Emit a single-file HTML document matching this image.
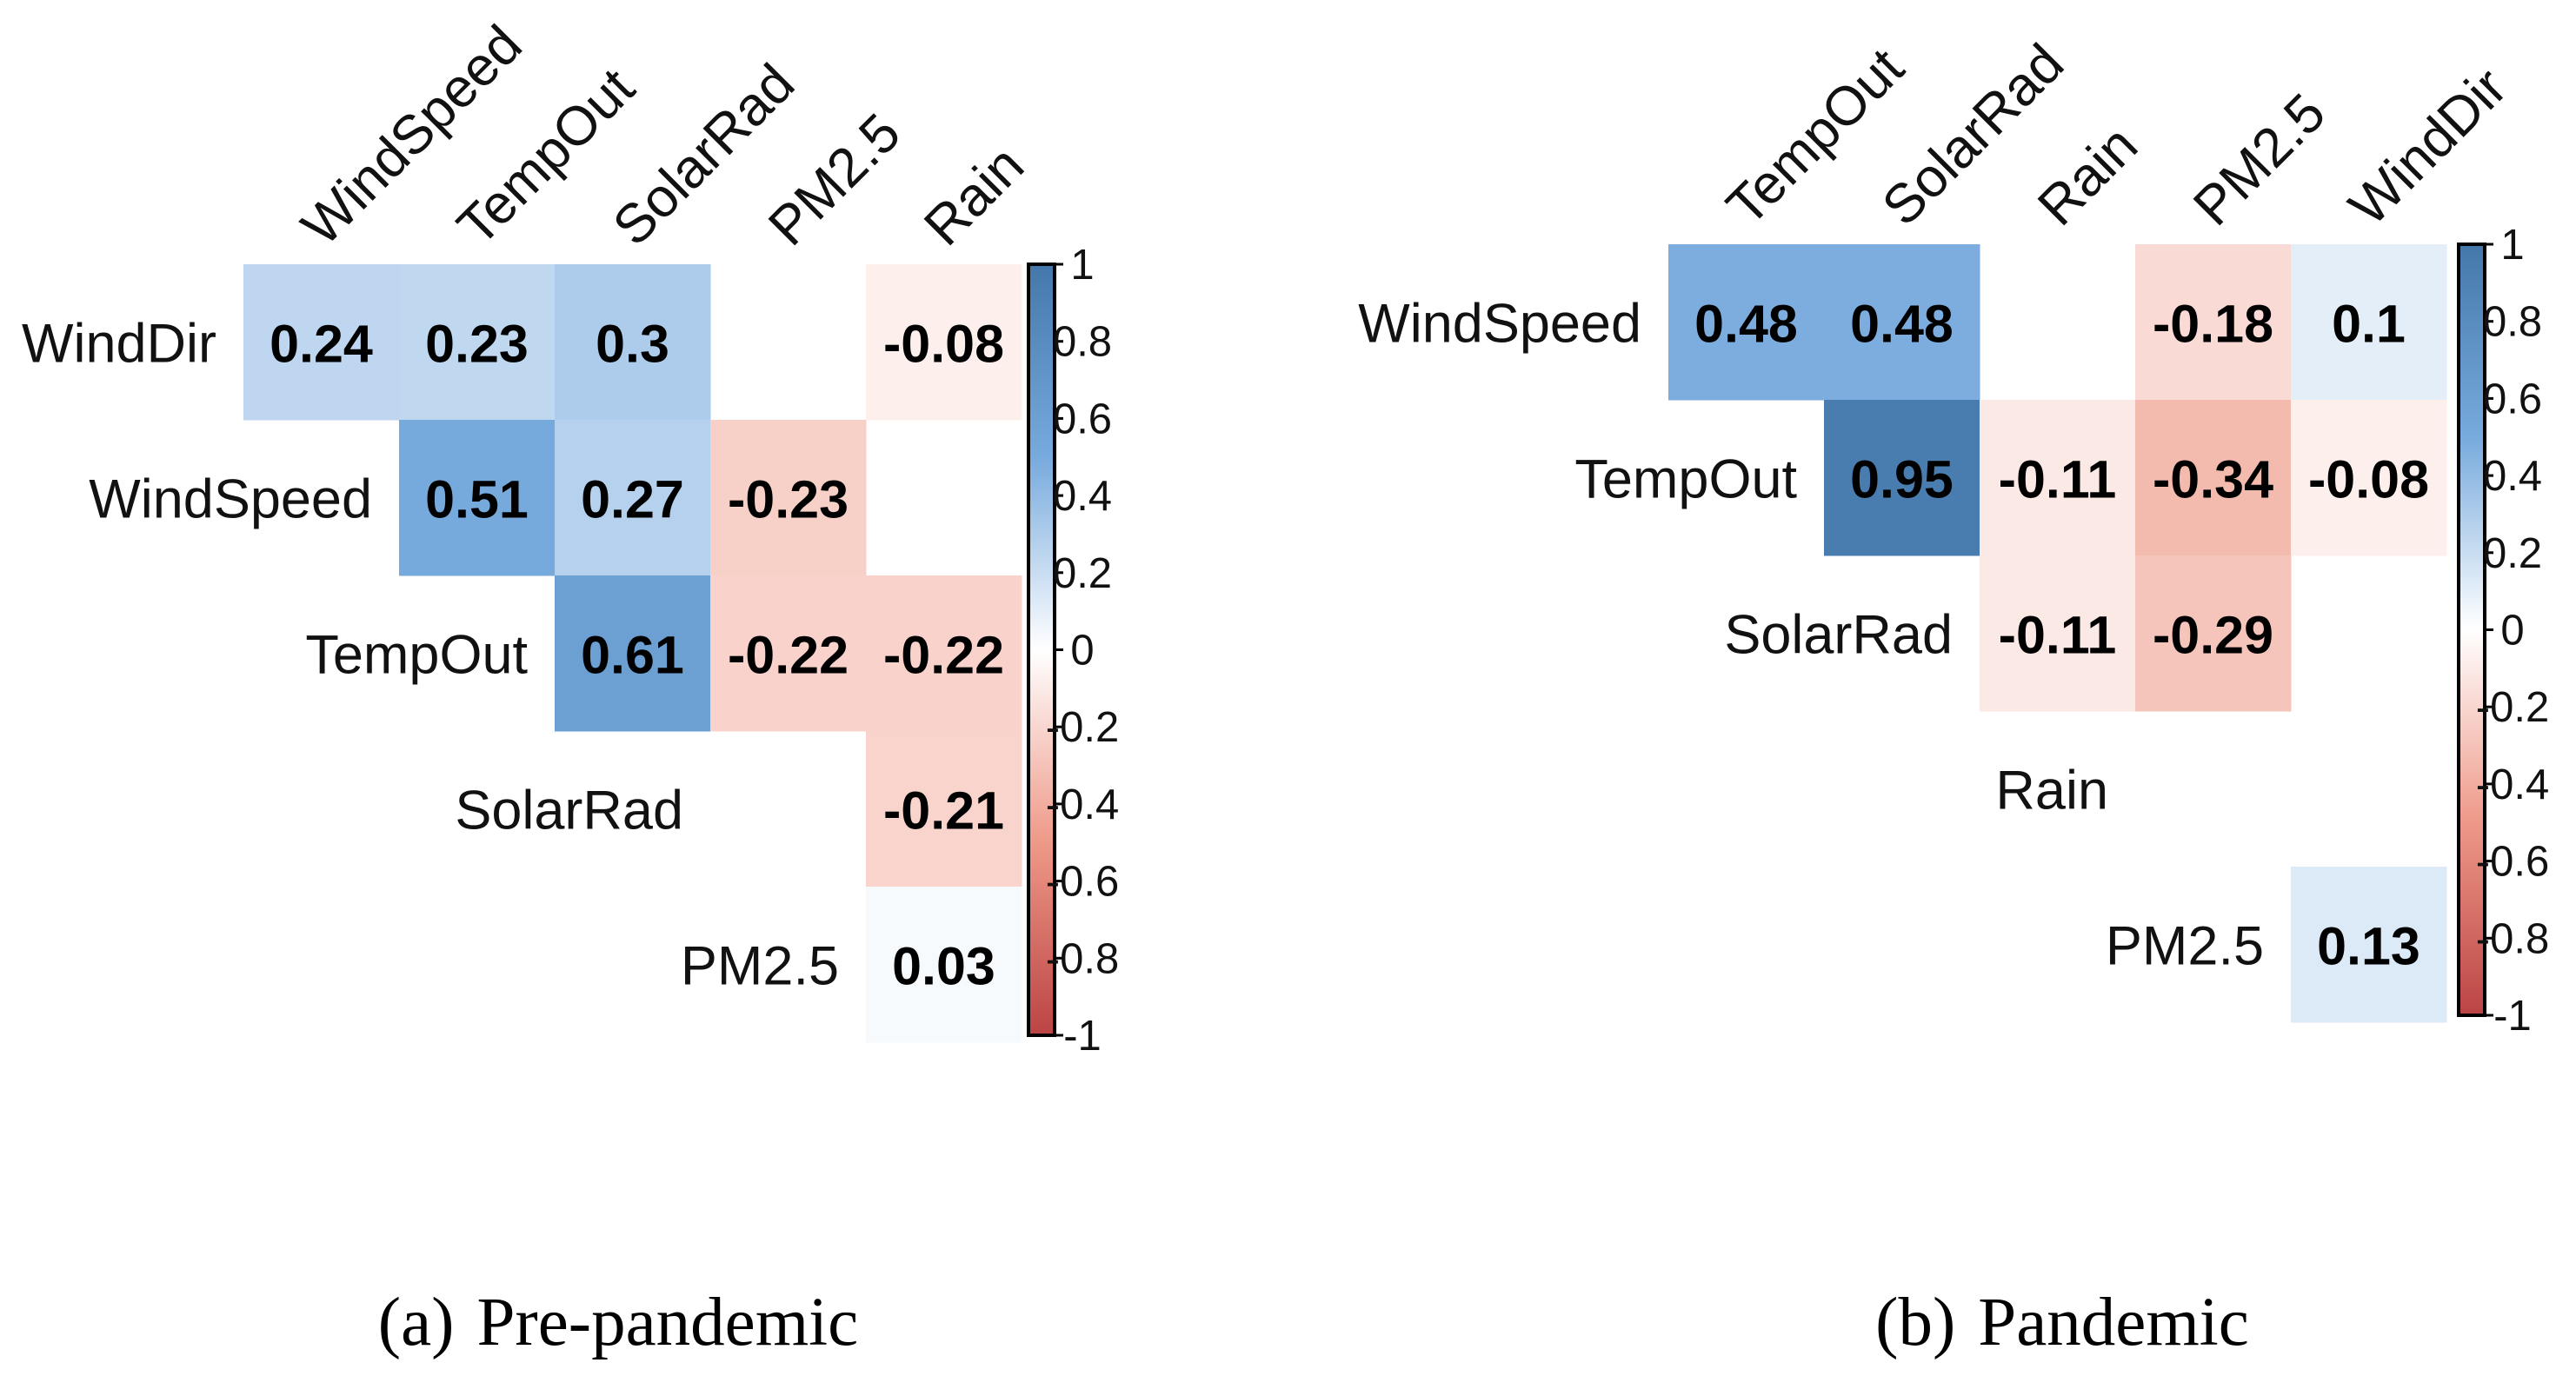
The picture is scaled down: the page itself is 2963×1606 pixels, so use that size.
<!DOCTYPE html>
<html><head><meta charset="utf-8"><title>Correlation heatmaps</title>
<style>html,body{margin:0;padding:0;background:#fff}svg{display:block}</style></head>
<body>
<svg id="fig" xmlns="http://www.w3.org/2000/svg" width="2963" height="1606" viewBox="0 0 2963 1606">
<defs>
<linearGradient id="cbgrad" x1="0" y1="0" x2="0" y2="1">
<stop offset="0" stop-color="#4477AA"/><stop offset="0.25" stop-color="#77AADD"/><stop offset="0.5" stop-color="#FFFFFF"/><stop offset="0.75" stop-color="#EE9988"/><stop offset="1" stop-color="#BB4444"/>
</linearGradient>
</defs>
<text x="711" y="1547" text-anchor="middle" font-family="Liberation Serif, serif" font-size="79">(a)<tspan dx="26">Pre-pandemic</tspan></text>
<text x="2372" y="1547" text-anchor="middle" font-family="Liberation Serif, serif" font-size="79">(b)<tspan dx="26">Pandemic</tspan></text>
</svg>
<script>
const leftRows = ["WindDir","WindSpeed","TempOut","SolarRad","PM2.5"];
const leftCols = ["WindSpeed","TempOut","SolarRad","PM2.5","Rain"];
const leftValues = [
  [0.24, 0.23, 0.3, null, -0.08],
  [null, 0.51, 0.27, -0.23, null],
  [null, null, 0.61, -0.22, -0.22],
  [null, null, null, null, -0.21],
  [null, null, null, null, 0.03]
];
const rightRows = ["WindSpeed","TempOut","SolarRad","Rain","PM2.5"];
const rightCols = ["TempOut","SolarRad","Rain","PM2.5","WindDir"];
const rightValues = [
  [0.48, 0.48, null, -0.18, 0.1],
  [null, 0.95, -0.11, -0.34, -0.08],
  [null, null, -0.11, -0.29, null],
  [null, null, null, null, null],
  [null, null, null, null, 0.13]
];
const tickValues = [1,0.8,0.6,0.4,0.2,0,-0.2,-0.4,-0.6,-0.8,-1];
const tickLabels = ["1","0.8","0.6","0.4","0.2","0","-0.2","-0.4","-0.6","-0.8","-1"];

const NS = "http://www.w3.org/2000/svg";
const svg = document.getElementById("fig");
const pal = [[0xBB,0x44,0x44],[0xEE,0x99,0x88],[0xFF,0xFF,0xFF],[0x77,0xAA,0xDD],[0x44,0x77,0xAA]];
function colorFor(v){
  let t = (Math.max(-1,Math.min(1,v))+1)/2*4;
  let i = Math.min(3,Math.floor(t)); let f = t-i;
  const c = pal[i].map((a,k)=>Math.round(a+(pal[i+1][k]-a)*f));
  return "rgb("+c.join(",")+")";
}
function mk(tag, attrs, parent){
  const e = document.createElementNS(NS, tag);
  for (const k in attrs) e.setAttribute(k, attrs[k]);
  (parent||svg).appendChild(e); return e;
}
function fmt(v){ return String(v); }

function drawChart(cfg){
  const g = mk("g", {});
  
  
  const xAt = j => cfg.x0 + j*cfg.cw;
  const yAt = i => cfg.y0 + i*cfg.cw;
  cfg.values.forEach((row,i)=>{
    row.forEach((v,j)=>{
      if (v === null) return;
      const r = mk("rect", {x:xAt(j), y:yAt(i), width:cfg.cw+0.5, height:cfg.cw+0.5, fill:colorFor(v)}, g);
      
      
      const t = mk("text", {x:xAt(j)+cfg.cw/2, y:yAt(i)+cfg.cw/2+23, "text-anchor":"middle", "font-family":"Liberation Sans, sans-serif", "font-weight":"bold", "font-size":"61", fill:"#000"}, g);
      t.textContent = fmt(v);
      
      
    });
  });
  cfg.rows.forEach((lab,i)=>{
    const t = mk("text", {x:xAt(i)-31, y:yAt(i)+cfg.cw/2+23, "text-anchor":"end", "font-family":"Liberation Sans, sans-serif", "font-size":"63", fill:"#111"}, g);
    t.textContent = lab;
    
    
  });
  cfg.cols.forEach((lab,j)=>{
    const cx = xAt(j)+cfg.cw/2 + 4, cy = cfg.y0 - 18;
    const t = mk("text", {x:cx, y:cy, transform:"rotate(-45 "+cx+" "+cy+")", "font-family":"Liberation Sans, sans-serif", "font-size":"63", fill:"#111"}, g);
    t.textContent = lab;
    
    
  });
  const by0 = cfg.y0, by1 = cfg.y0 + 5*cfg.cw - 8;
  const bx = cfg.barX, bw = 30;
  const bar = mk("rect", {x:bx, y:by0, width:bw, height:by1-by0, fill:"url(#cbgrad)", stroke:"#000", "stroke-width":"4"}, g);
  
  
  const yv = v => by0 + (1-v)/2*(by1-by0);
  tickValues.forEach((v,k)=>{
    const tk = mk("line", {x1:bx+bw, x2:bx+bw+10, y1:yv(v), y2:yv(v), stroke:"#000", "stroke-width":"3"}, g);
    
    
    const t = mk("text", {x:bx+bw+32, y:yv(v)+17, "text-anchor":"middle", "font-family":"Liberation Sans, sans-serif", "font-size":"49", fill:"#111"}, g);
    t.textContent = tickLabels[k];
    
    
  });
}
drawChart({name:"heatmap-pre-pandemic", rows:leftRows, cols:leftCols, values:leftValues, x0:280, y0:304, cw:179, barX:1183});
drawChart({name:"heatmap-pandemic", rows:rightRows, cols:rightCols, values:rightValues, x0:1919, y0:281, cw:179, barX:2828});
</script>
</body></html>
